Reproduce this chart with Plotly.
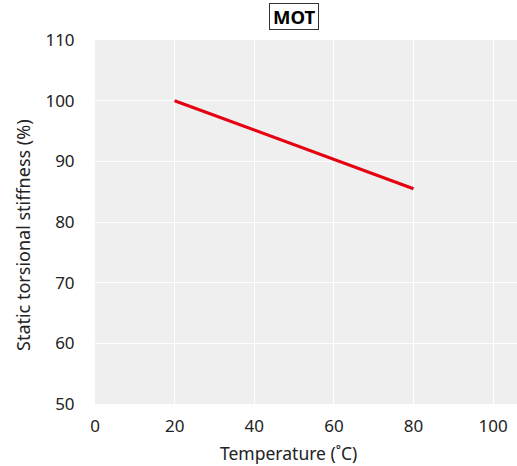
import plotly.graph_objects as go

temperature = [20, 80]
stiffness = [100, 85.5]
x_ticks = [0, 20, 40, 60, 80, 100]
y_ticks = [50, 60, 70, 80, 90, 100, 110]

font = "Noto Sans"
W, H = 517, 466
ML, MR, MT, MB = 95, 0, 40, 62

fig = go.Figure()
fig.add_trace(go.Scatter(
    x=temperature, y=stiffness, mode="lines",
    line=dict(color="#e60012", width=3.2),
    showlegend=False, hoverinfo="skip",
))

plot_h = H - MT - MB
plot_w = W - ML - MR

fig.update_layout(
    width=W, height=H,
    margin=dict(l=ML, r=MR, t=MT, b=MB),
    paper_bgcolor="white",
    plot_bgcolor="#efefef",
    font=dict(family=font, size=17, color="#222222"),
    xaxis=dict(
        range=[0, 106], tickvals=x_ticks, showgrid=True,
        gridcolor="white", gridwidth=1.2, zeroline=False, showline=False,
        ticks="outside", ticklen=7, tickcolor="rgba(0,0,0,0)",
        tickfont=dict(size=17),
    ),
    yaxis=dict(
        range=[50, 110], tickvals=y_ticks, showgrid=True,
        gridcolor="white", gridwidth=1.2, zeroline=False, showline=False,
        ticks="outside", ticklen=16, tickcolor="rgba(0,0,0,0)",
        tickfont=dict(size=17),
    ),
    annotations=[
        dict(text="&#8201;<b>MOT</b>&#8201;", x=50, xref="x", y=1, yref="paper",
             yanchor="bottom", yshift=10, showarrow=False,
             font=dict(size=18.5, color="black", family=font),
             bordercolor="#333333", borderwidth=1, borderpad=0,
             bgcolor="white"),
        dict(text="Temperature (˚C)", x=48.5, xref="x",
             y=(H - MB - 453) / plot_h, yref="paper", yanchor="middle",
             showarrow=False, font=dict(size=17.5, color="#222222")),
        dict(text="Static torsional stiffness (%)", textangle=-90,
             x=(23 - ML) / plot_w, xref="paper", xanchor="center",
             y=(H - MB - 235) / plot_h, yref="paper", yanchor="middle",
             showarrow=False, font=dict(size=18, color="#222222")),
    ],
)

fig.write_html("out.html", config={"displayModeBar": False})

with open("out.html", "r", encoding="utf-8") as f:
    html = f.read()
html = html.replace("<head>", "<head><style>html,body{margin:0;padding:0;overflow:hidden;}</style>", 1)
with open("out.html", "w", encoding="utf-8") as f:
    f.write(html)
